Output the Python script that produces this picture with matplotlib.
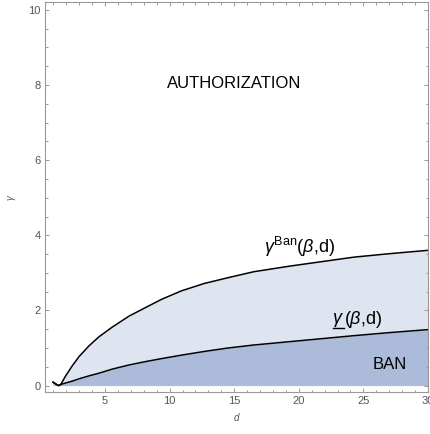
import numpy as np
import matplotlib
matplotlib.use('Agg')
import matplotlib.pyplot as plt

plt.rcParams['font.family'] = ['Liberation Sans', 'DejaVu Sans']
plt.rcParams['mathtext.fontset'] = 'custom'
plt.rcParams['mathtext.rm'] = 'Liberation Sans'
plt.rcParams['mathtext.it'] = 'Liberation Sans:italic'

# Values
d = [0.97, 1.39, 1.57, 1.95, 2.47, 2.98, 3.76, 4.53, 5.57, 6.86, 8.15, 9.4,
     10.9, 12.7, 14.5, 16.5, 19.3, 21.8, 24.3, 27.0, 30.0]
gamma_ban = [0.09, 0.0, 0.03, 0.26, 0.53, 0.77, 1.06, 1.30, 1.56, 1.85, 2.08,
             2.30, 2.52, 2.72, 2.87, 3.03, 3.18, 3.30, 3.42, 3.51, 3.60]
gamma_low = [0.09, 0.0, 0.03, 0.07, 0.12, 0.18, 0.26, 0.33, 0.44, 0.55, 0.64,
             0.72, 0.81, 0.91, 1.00, 1.08, 1.17, 1.25, 1.33, 1.41, 1.49]

x_ticks = [5, 10, 15, 20, 25, 30]
y_ticks = [0, 2, 4, 6, 8, 10]

d = np.array(d)
gamma_ban = np.array(gamma_ban)
gamma_low = np.array(gamma_low)

fig = plt.figure(figsize=(4.30, 4.34), dpi=100)
ax = fig.add_axes([45 / 430, 42 / 434, 383 / 430, 389.7 / 434])

ax.fill_between(d, 0, gamma_low, color='#abbbd9', lw=0)
ax.fill_between(d, gamma_low, gamma_ban, color='#dee4f0', lw=0)
ax.plot(d, gamma_ban, color='black', lw=1.1)
ax.plot(d, gamma_low, color='black', lw=1.1)

ax.set_xlim(0.35, 30)
ax.set_ylim(-0.17, 10.2)
ax.set_xticks(x_ticks)
ax.set_yticks(y_ticks)
ax.set_xticks(np.arange(1, 31, 1), minor=True)
ax.set_yticks(np.arange(0, 10.01, 0.5), minor=True)

gray = '#999999'
for s in ax.spines.values():
    s.set_color(gray)
    s.set_linewidth(0.8)
ax.tick_params(which='both', direction='in', top=True, right=True,
               color=gray, labelcolor='#555555', labelsize=8, width=0.7)
ax.tick_params(which='major', length=3.2, pad=3)
ax.tick_params(which='minor', length=1.8)

ax.set_xlabel('d', fontstyle='italic', color='#555555', fontsize=7, labelpad=5)
ax.set_ylabel('γ', fontstyle='italic', color='#555555', fontsize=7, labelpad=9)

ax.text(14.98, 8.03, 'AUTHORIZATION', fontsize=12, ha='center', va='center')
ax.text(27.07, 0.56, 'BAN', fontsize=12, ha='center', va='center')
ax.text(20.06, 3.68, r'$\gamma^{\rm Ban}(\beta$,d)', fontsize=13, ha='center', va='center')

# underlined gamma label for the lower curve
tg = ax.text(23.5, 1.75, r'$\gamma$', fontsize=13, ha='right', va='center')
ax.text(23.5, 1.75, r'$(\beta$,d)', fontsize=13, ha='left', va='center')
fig.canvas.draw()
bb = tg.get_window_extent().transformed(ax.transData.inverted())
y_ul = bb.y0 + 0.02
ax.plot([bb.x0 + 0.05, bb.x1], [y_ul, y_ul], color='black', lw=1.0)

fig.savefig('out.png', dpi=100)
